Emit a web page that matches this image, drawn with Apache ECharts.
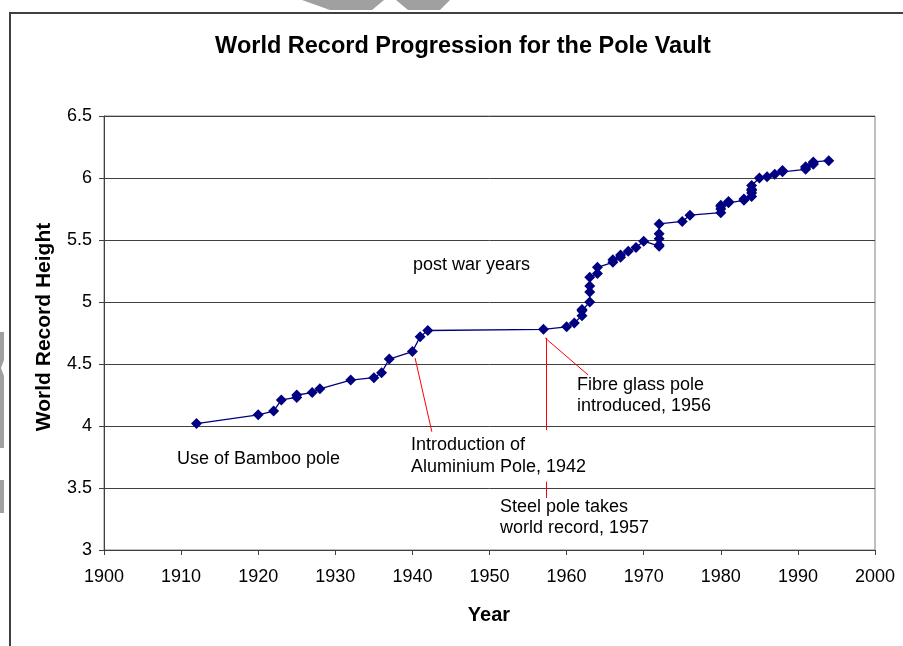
<!DOCTYPE html>
<html>
<head>
<meta charset="utf-8">
<script src="https://cdn.jsdelivr.net/npm/echarts@6/dist/echarts.min.js"></script>
<style>
html,body{margin:0;padding:0;background:#fff;}
#chart{width:903px;height:646px;}
</style>
</head>
<body>
<div id="chart"></div>
<script>
var years = [1912,1920,1922,1923,1925,1925,1927,1928,1932,1935,1936,1937,1940,1941,1942,1957,1960,1961,1962,1962,1962,1963,1963,1963,1963,1964,1964,1966,1966,1967,1967,1968,1969,1970,1972,1972,1972,1972,1972,1975,1976,1980,1980,1980,1980,1981,1981,1983,1983,1984,1984,1984,1984,1984,1985,1986,1987,1988,1988,1991,1991,1991,1992,1992,1992,1994];
var heights = [4.02,4.09,4.12,4.21,4.23,4.25,4.27,4.30,4.37,4.39,4.43,4.54,4.60,4.72,4.77,4.78,4.80,4.83,4.89,4.93,4.94,5.00,5.08,5.13,5.20,5.23,5.28,5.32,5.34,5.36,5.38,5.41,5.44,5.49,5.45,5.46,5.51,5.55,5.63,5.65,5.70,5.72,5.75,5.77,5.78,5.80,5.81,5.82,5.83,5.85,5.88,5.90,5.91,5.94,6.00,6.01,6.03,6.05,6.06,6.07,6.08,6.09,6.11,6.12,6.13,6.14];

var chartTitle = 'World Record Progression for the Pole Vault';
var xTitle = 'Year';
var yTitle = 'World Record Height';

// annotation leader lines in data coordinates [x1,y1,x2,y2]
var leaderLines = [
  [1940.35, 4.548, 1942.52, 3.954],
  [1957.35, 4.71, 1957.35, 3.968],
  [1957.35, 3.551, 1957.35, 3.419],
  [1957.22, 4.71, 1962.8, 4.411]
];

var points = years.map(function(y, i){ return [y, heights[i]]; });

var font = '"Liberation Sans", Arial, sans-serif';

var chart = echarts.init(document.getElementById('chart'), null, {renderer:'canvas'});

function txt(text, x, y, opts){
  opts = opts || {};
  return {
    type:'text', x:x, y:y, rotation: opts.rotation || 0, z:100,
    style:{
      text:text, fill:'#000',
      font:(opts.bold ? 'bold ' : '') + (opts.size || 18) + 'px ' + font,
      textAlign: opts.align || 'left', textVerticalAlign:'middle'
    }
  };
}

var option = {
  animation:false,
  backgroundColor:'#fff',
  grid:{left:104, right:28, top:116, bottom:96, show:true, borderColor:'#808080', borderWidth:1, backgroundColor:'#fff'},
  xAxis:{
    type:'value', min:1900, max:2000, interval:10,
    axisLine:{show:true, lineStyle:{color:'#404040', width:1}},
    axisTick:{show:true, inside:false, length:5, lineStyle:{color:'#404040'}},
    axisLabel:{fontFamily:font, fontSize:18, color:'#000', margin:18, formatter:function(v){ return String(v); }},
    splitLine:{show:false}
  },
  yAxis:{
    type:'value', min:3, max:6.5, interval:0.5,
    axisLine:{show:true, lineStyle:{color:'#404040', width:1}},
    axisTick:{show:true, inside:false, length:5, lineStyle:{color:'#404040'}},
    axisLabel:{fontFamily:font, fontSize:18, color:'#000', margin:12},
    splitLine:{show:true, lineStyle:{color:'#404040', width:1}}
  },
  series:[{
    type:'line',
    data:points,
    symbol:'diamond',
    symbolSize:11,
    showAllSymbol:true,
    lineStyle:{color:'#000080', width:1.3},
    itemStyle:{color:'#000080'},
    z:5,
    markLine:{
      silent:true, symbol:'none', animation:false,
      label:{show:false},
      lineStyle:{color:'#ff0000', width:1, type:'solid'},
      data: leaderLines.map(function(l){ return [{coord:[l[0], l[1]]}, {coord:[l[2], l[3]]}]; })
    }
  }],
  graphic:[
    {type:'rect', shape:{x:10, y:13, width:1000, height:1000}, style:{fill:'none', stroke:'#404040', lineWidth:2}, z:50},
    {type:'polygon', shape:{points:[[302,0],[384,0],[372,10],[330,10]]}, style:{fill:'#a0a0a0'}, z:60},
    {type:'polygon', shape:{points:[[396,0],[450,0],[440,10],[408,10]]}, style:{fill:'#a0a0a0'}, z:60},
    {type:'polygon', shape:{points:[[0,332],[4,332],[4,360],[1,368],[4,376],[4,448],[0,448]]}, style:{fill:'#a0a0a0'}, z:60},
    {type:'polygon', shape:{points:[[0,480],[4,480],[4,513],[0,513]]}, style:{fill:'#a0a0a0'}, z:60},
    txt(chartTitle, 463, 47, {bold:true, size:23.5, align:'center'}),
    txt(yTitle, 44, 327, {bold:true, size:21, align:'center', rotation:Math.PI/2}),
    txt(xTitle, 489, 615, {bold:true, size:20, align:'center'}),
    txt('Use of Bamboo pole', 177, 459),
    txt('post war years', 413, 265),
    txt('Introduction of', 411, 445),
    txt('Aluminium Pole, 1942', 411, 467),
    txt('Fibre glass pole', 577, 385),
    txt('introduced, 1956', 577, 406),
    txt('Steel pole takes', 500, 507),
    txt('world record, 1957', 500, 528)
  ]
};
chart.setOption(option);
</script>
</body>
</html>
